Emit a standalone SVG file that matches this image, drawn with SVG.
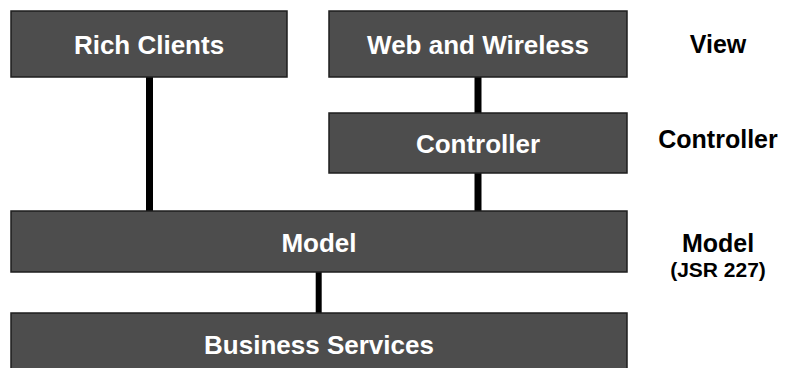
<svg xmlns="http://www.w3.org/2000/svg" width="788" height="368" viewBox="0 0 788 368">
<style>
.box{fill:#4d4d4d;stroke:#1e1e1e;stroke-width:1.5}
.bt{font-family:"Liberation Sans",Arial,sans-serif;font-weight:bold;font-size:26px;fill:#ffffff;text-anchor:middle}
.lt{font-family:"Liberation Sans",Arial,sans-serif;font-weight:bold;font-size:25px;fill:#000000;text-anchor:middle}
.st{font-family:"Liberation Sans",Arial,sans-serif;font-weight:bold;font-size:21px;fill:#000000;text-anchor:middle}
.conn{stroke:#000000;fill:none}
</style>
<rect width="788" height="368" fill="#ffffff"/>
<g id="connectors">
<line class="conn" x1="149.5" y1="77" x2="149.5" y2="211" stroke-width="7"/>
<line class="conn" x1="478" y1="77" x2="478" y2="113" stroke-width="7"/>
<line class="conn" x1="478" y1="173" x2="478" y2="211" stroke-width="7"/>
<line class="conn" x1="318.7" y1="272" x2="318.7" y2="313" stroke-width="6"/>
</g>
<g id="rich-clients">
<rect class="box" x="11" y="11" width="276" height="66"/>
<text class="bt" x="149" y="54">Rich Clients</text>
</g>
<g id="web-wireless">
<rect class="box" x="329" y="11" width="298" height="66"/>
<text class="bt" x="478" y="54">Web and Wireless</text>
</g>
<g id="controller">
<rect class="box" x="329" y="113" width="298" height="60"/>
<text class="bt" x="478" y="153">Controller</text>
</g>
<g id="model">
<rect class="box" x="11" y="211" width="616" height="61"/>
<text class="bt" x="319" y="252">Model</text>
</g>
<g id="business-services">
<rect class="box" x="11" y="313" width="616" height="60"/>
<text class="bt" x="319" y="354">Business Services</text>
</g>
<g id="layer-labels">
<text class="lt" x="718" y="53">View</text>
<text class="lt" x="718" y="148">Controller</text>
<text class="lt" x="718" y="252">Model</text>
<text class="st" x="718" y="277">(JSR 227)</text>
</g>
</svg>
